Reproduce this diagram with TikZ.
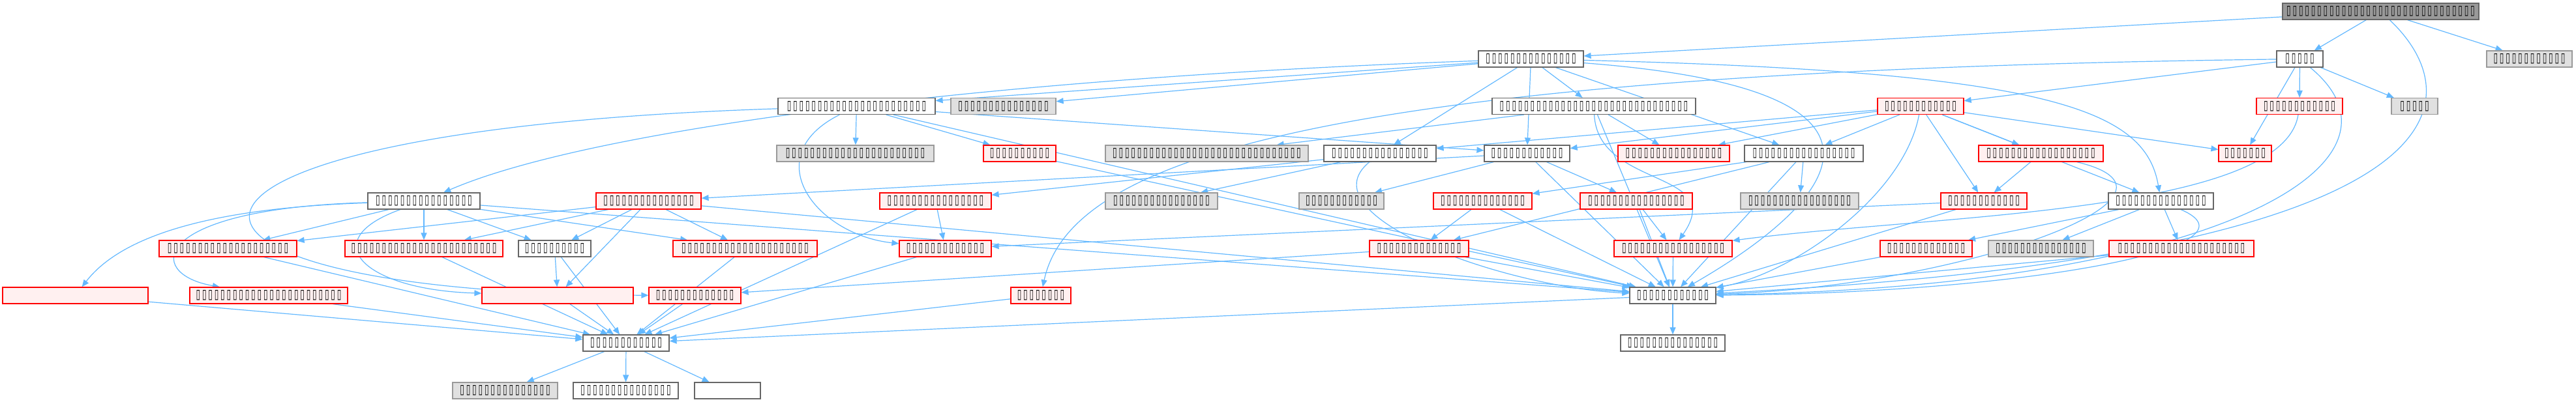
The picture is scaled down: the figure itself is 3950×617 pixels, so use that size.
\documentclass[tikz,border=0pt]{standalone}
\usepackage{fontspec}
\usetikzlibrary{arrows.meta,backgrounds}
\newfontfamily\tofufont{DejaVu Sans}
\definecolor{dxedge}{HTML}{63B8FF}
\definecolor{dxred}{HTML}{FF0000}
\definecolor{dxpink}{HTML}{FFF0F0}
\definecolor{dxgray}{HTML}{E0E0E0}
\definecolor{dxline}{HTML}{666666}
\definecolor{dxlgray}{HTML}{999999}
\newcommand{\tofu}[1]{\foreach \k in {1,...,#1}{\makebox[9.4pt]{\resizebox{6.6pt}{13pt}{▯}}}}
\tikzset{
  dx/.style={
    draw=dxline, line width=1.2pt, inner sep=0pt,
    minimum height=25pt, text=black,
    font=\tofufont\bfseries\fontsize{14}{16}\selectfont
  },
  wn/.style={dx, fill=white},
  rn/.style={dx, draw=dxred, fill=dxpink},
  gn/.style={dx, draw=dxlgray, fill=dxgray},
  tn/.style={dx, fill=dxlgray},
  inc/.style={draw=dxedge, line width=1.2pt, -{Triangle[length=11pt,width=9pt]}}
}

\begin{document}
\begin{tikzpicture}[x=1pt,y=1pt]
  \useasboundingbox (0,0) rectangle (3950,-617);
  % rank 0 and 1
  \node[tn, minimum width=301pt] (top) at (3650.5,-17.5) {\tofu{31}};
  \node[wn, minimum width=161pt] (r1a) at (2347.5,-90.5) {\tofu{15}};
  \node[wn, minimum width=71pt] (r1b) at (3526.5,-90.5) {\tofu{5}};
  \node[gn, minimum width=131pt] (r1c) at (3878.5,-90.5) {\tofu{12}};
  % rank 2
  \node[wn, minimum width=241pt] (r2a) at (1313.5,-163) {\tofu{23}};
  \node[gn, minimum width=161pt] (r2b) at (1538.5,-163) {\tofu{15}};
  \node[wn, minimum width=312pt] (r2c) at (2444,-163) {\tofu{31}};
  \node[rn, minimum width=132pt] (r2d) at (2945,-163) {\tofu{12}};
  \node[rn, minimum width=132pt] (r2e) at (3526,-163) {\tofu{12}};
  \node[gn, minimum width=71pt] (r2f) at (3702.5,-163) {\tofu{5}};
  % rank 3
  \node[gn, minimum width=241pt] (r3a) at (1311.5,-235.5) {\tofu{23}};
  \node[rn, minimum width=111pt] (r3b) at (1563.5,-235.5) {\tofu{10}};
  \node[gn, minimum width=311pt] (r3c) at (1850.5,-235.5) {\tofu{31}};
  \node[wn, minimum width=172pt] (r3d) at (2116,-235.5) {\tofu{16}};
  \node[wn, minimum width=131pt] (r3e) at (2341.5,-235.5) {\tofu{12}};
  \node[rn, minimum width=171pt] (r3f) at (2566.5,-235.5) {\tofu{16}};
  \node[wn, minimum width=182pt] (r3g) at (2766,-235.5) {\tofu{17}};
  \node[rn, minimum width=191pt] (r3h) at (3129.5,-235.5) {\tofu{18}};
  \node[rn, minimum width=81pt] (r3i) at (3442.5,-235.5) {\tofu{7}};
  % rank 4
  \node[wn, minimum width=172pt] (r4a) at (650,-308.5) {\tofu{16}};
  \node[rn, minimum width=161pt] (r4b) at (994.5,-308.5) {\tofu{15}};
  \node[rn, minimum width=171pt] (r4c) at (1434.5,-308.5) {\tofu{16}};
  \node[gn, minimum width=172pt] (r4d) at (1781,-308.5) {\tofu{16}};
  \node[gn, minimum width=130pt] (r4e) at (2057,-308.5) {\tofu{12}};
  \node[rn, minimum width=151pt] (r4f) at (2273.5,-308.5) {\tofu{14}};
  \node[rn, minimum width=172pt] (r4g) at (2509,-308.5) {\tofu{16}};
  \node[gn, minimum width=181pt] (r4h) at (2759.5,-308.5) {\tofu{17}};
  \node[rn, minimum width=132pt] (r4i) at (3042,-308.5) {\tofu{12}};
  \node[wn, minimum width=161pt] (r4j) at (3313.5,-308.5) {\tofu{15}};
  % rank 5
  \node[rn, minimum width=211pt] (r5a) at (349.5,-381.5) {\tofu{20}};
  \node[rn, minimum width=242pt] (r5b) at (650,-381.5) {\tofu{24}};
  \node[wn, minimum width=111pt] (r5c) at (850.5,-381.5) {\tofu{10}};
  \node[rn, minimum width=221pt] (r5d) at (1142.5,-381.5) {\tofu{21}};
  \node[rn, minimum width=141pt] (r5e) at (1449.5,-381.5) {\tofu{13}};
  \node[rn, minimum width=152pt] (r5f) at (2176,-381.5) {\tofu{14}};
  \node[rn, minimum width=181pt] (r5g) at (2565.5,-381.5) {\tofu{17}};
  \node[rn, minimum width=141pt] (r5h) at (2953.5,-381.5) {\tofu{13}};
  \node[gn, minimum width=161pt] (r5i) at (3129.5,-381.5) {\tofu{15}};
  \node[rn, minimum width=222pt] (r5j) at (3345,-381.5) {\tofu{21}};
  % rank 6
  \node[rn, minimum width=223pt] (r6a) at (115.5,-453.5) {};
  \node[rn, minimum width=242pt] (r6b) at (412,-453.5) {\tofu{24}};
  \node[rn, minimum width=232pt] (r6c) at (855,-453.5) {};
  \node[rn, minimum width=141pt] (r6d) at (1065.5,-453.5) {\tofu{13}};
  \node[rn, minimum width=92pt] (r6e) at (1596,-453.5) {\tofu{8}};
  \node[wn, minimum width=132pt] (hub) at (2565,-453.5) {\tofu{12}};
  % rank 7 and 8
  \node[wn, minimum width=132pt] (base) at (960,-526.5) {\tofu{12}};
  \node[wn, minimum width=160pt] (r7b) at (2565,-526.5) {\tofu{15}};
  \node[gn, minimum width=161pt] (r8a) at (774.5,-599.5) {\tofu{15}};
  \node[wn, minimum width=161pt] (r8b) at (959.5,-599.5) {\tofu{15}};
  \node[wn, minimum width=101pt] (r8c) at (1115.5,-599.5) {};

  \begin{scope}[on background layer]
    % top file
    \draw[inc] (top) -- (r1a);
    \draw[inc] (top) -- (r1b);
    \draw[inc] (top) -- (r1c);
    \draw[inc] (top) .. controls (3790,-150) and (3800,-390) .. (hub);
    % rank 1
    \foreach \t in {r2a,r2b,r2c,r3d,r3e,r3g}
      \draw[inc] (r1a) -- (\t);
    \draw[inc] (r1a) .. controls (1500,-120) and (900,-200) .. (r4a);
    \draw[inc] (r1a) .. controls (3150,-110) and (3290,-170) .. (r4j);
    \draw[inc] (r1a) .. controls (3000,-140) and (2780,-330) .. (hub);
    \foreach \t in {r2d,r2e,r2f,r3i}
      \draw[inc] (r1b) -- (\t);
    \draw[inc] (r1b) .. controls (2000,-110) and (1640,-250) .. (r6e);
    \draw[inc] (r1b) .. controls (3720,-250) and (3400,-440) .. (hub);
    % rank 2
    \foreach \t in {r3a,r3b,r3e,hub}
      \draw[inc] (r2a) -- (\t);
    \draw[inc] (r2a) .. controls (1160,-240) and (1250,-360) .. (r5e);
    \draw[inc] (r2a) .. controls (150,-200) and (150,-450) .. (r6d);
    \foreach \t in {r3c,r3f,hub}
      \draw[inc] (r2c) -- (\t);
    \draw[inc] (r2c) .. controls (2450,-290) and (2650,-260) .. (r5g);
    \foreach \t in {r3d,r3e,r3f,r3g,r3h,r3i,r4i,r4j}
      \draw[inc] (r2d) -- (\t);
    \draw[inc] (r2d) .. controls (2920,-300) and (2750,-420) .. (hub);
    \draw[inc] (r2e) .. controls (3500,-330) and (2950,-330) .. (r5g);
    % rank 3
    \draw[inc] (r3b) -- (hub);
    \draw[inc] (r3d) -- (r4c);
    \draw[inc] (r3d) -- (r4d);
    \draw[inc] (r3d) .. controls (2000,-330) and (2300,-440) .. (hub);
    \foreach \t in {r4b,r4e,r4g,hub}
      \draw[inc] (r3e) -- (\t);
    \foreach \t in {r4f,r4h,r5f,hub}
      \draw[inc] (r3g) -- (\t);
    \draw[inc] (r3h) -- (r4i);
    \draw[inc] (r3h) .. controls (3400,-300) and (3000,-440) .. (hub);
    % rank 4
    \foreach \t in {r5a,r5b,r5c,r5d,hub}
      \draw[inc] (r4a) -- (\t);
    \draw[inc] (r4a) .. controls (300,-320) and (180,-370) .. (r6a);
    \draw[inc] (r4a) .. controls (230,-320) and (220,-420) .. (r6b);
    \draw[inc] (r4a) .. controls (480,-370) and (560,-445) .. (r6c);
    \foreach \t in {r5a,r5b,r5c,r6c,r5d,hub}
      \draw[inc] (r4b) -- (\t);
    \draw[inc] (r4c) -- (r5e);
    \draw[inc] (r4c) -- (base);
    \draw[inc] (r4f) -- (r5f);
    \draw[inc] (r4f) -- (hub);
    \draw[inc] (r4g) -- (r5g);
    \draw[inc] (r4g) -- (hub);
    \draw[inc] (r4i) -- (r5e);
    \draw[inc] (r4i) -- (hub);
    \foreach \t in {r5h,r5i,r5j}
      \draw[inc] (r4j) -- (\t);
    \draw[inc] (r4j) .. controls (3480,-380) and (3100,-450) .. (hub);
    % rank 5 and 6
    \foreach \s in {r5a,r5b,r5c,r5d,r5e,r6a,r6b,r6c,r6d,r6e}
      \draw[inc] (\s) -- (base);
    \draw[inc] (r5c) -- (r6c);
    \draw[inc] (r5f) -- (r6d);
    \foreach \s in {r5f,r5g,r5h,r5j}
      \draw[inc] (\s) -- (hub);
    \draw[inc] (hub) -- (r7b);
    \draw[inc] (hub) -- (base);
    \foreach \t in {r8a,r8b,r8c}
      \draw[inc] (base) -- (\t);
  \end{scope}
\end{tikzpicture}
\end{document}
